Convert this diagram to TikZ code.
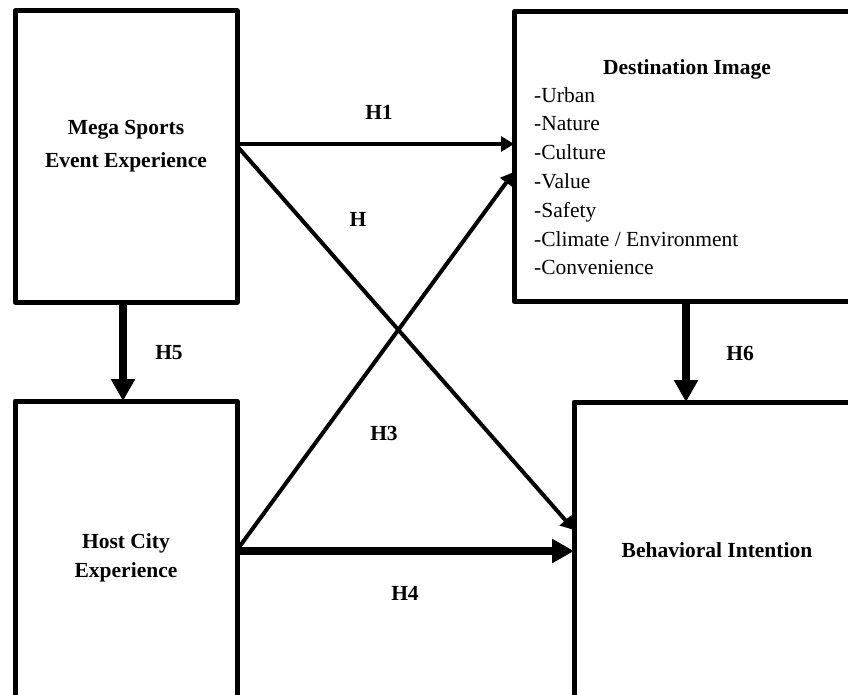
\documentclass[tikz,border=0pt]{standalone}
\usepackage{fontspec}
\setmainfont{Liberation Serif}
\usetikzlibrary{arrows.meta}
\begin{document}
\begin{tikzpicture}[x=1pt,y=-1pt,
  box/.style={draw, line width=5pt, line join=round, inner sep=0pt, outer sep=0pt, anchor=north west},
  txt/.style={font=\fontsize{21.5}{28.8}\selectfont, inner sep=0pt},
  btxt/.style={font=\fontsize{21.5}{28.8}\selectfont\bfseries, inner sep=0pt},
  thinarrow/.style={line width=4pt, -{Triangle[length=13pt,width=15pt]}},
  thickarrow/.style={line width=8pt, -{Triangle[length=22pt,width=23pt]}}]
\useasboundingbox (0,0) rectangle (848,695);
\begin{scope}
\clip (0,0) rectangle (848,695);
\node[box, minimum width=222pt, minimum height=291pt] (mega) at (15,11) {};
\node[box, minimum width=360pt, minimum height=289pt] (dest) at (514,12) {};
\node[box, minimum width=222pt, minimum height=320pt] (host) at (15,401) {};
\node[box, minimum width=300pt, minimum height=320pt] (beh) at (574,402) {};

\node[btxt, align=center, font=\fontsize{21.5}{33}\selectfont\bfseries] (megat) at (126,146) {Mega Sports\\Event Experience};
\node[btxt, align=center, font=\fontsize{21.5}{29}\selectfont\bfseries] (hostt) at (126,558) {Host City\\Experience};
\node[btxt, anchor=base] (destt) at (687,75) {Destination Image};
\node[txt, align=left, anchor=north west] (destl) at (534,87) {-Urban\\-Nature\\-Culture\\-Value\\-Safety\\-Climate / Environment\\-Convenience};
\node[btxt] (beht) at (717,550) {Behavioral Intention};

\draw[thinarrow] (mega.east |- 0,144) -- (dest.west |- 0,144);
\draw[thinarrow] (mega.east |- 0,146) -- (beh.west |- 0,530);
\draw[thinarrow] (host.east |- 0,550) -- (dest.west |- 0,172);
\draw[thickarrow] (host.east |- 0,551) -- (beh.west |- 0,551);
\draw[thickarrow] (mega.south -| 123,0) -- (host.north -| 123,0);
\draw[thickarrow] (dest.south -| 686,0) -- (beh.north -| 686,0);

\node[btxt] (h1) at (379,112) {H1};
\node[btxt] (h2) at (358,219) {H};
\node[btxt] (h5) at (169,353) {H5};
\node[btxt] (h6) at (740,353) {H6};
\node[btxt] (h3) at (384,433) {H3};
\node[btxt] (h4) at (405,593) {H4};
\end{scope}
\end{tikzpicture}
\end{document}
